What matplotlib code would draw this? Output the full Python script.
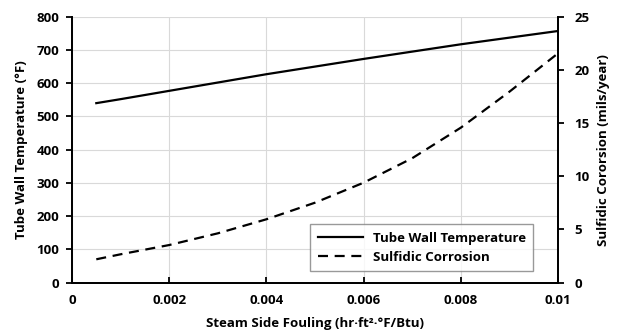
import matplotlib
matplotlib.use("Agg")
import matplotlib.pyplot as plt

plt.rcParams['font.family'] = ['Open Sans', 'DejaVu Sans']
plt.rcParams['font.weight'] = 'bold'

fouling = [0.0005, 0.001, 0.002, 0.003, 0.004, 0.005, 0.006, 0.007, 0.008, 0.009, 0.01]
tube_wall_temp = [540, 552, 577, 602, 627, 650, 673, 695, 717, 737, 757]
sulfidic_corrosion = [2.2, 2.67, 3.54, 4.64, 5.96, 7.52, 9.4, 11.7, 14.57, 17.95, 21.56]

x_ticks = [0, 0.002, 0.004, 0.006, 0.008, 0.01]
x_tick_labels = ["0", "0.002", "0.004", "0.006", "0.008", "0.01"]
left_ticks = [0, 100, 200, 300, 400, 500, 600, 700, 800]
right_ticks = [0, 5, 10, 15, 20, 25]

fig = plt.figure(figsize=(6.19, 3.32), dpi=100)
ax = fig.add_axes([0.1163, 0.1485, 0.7852, 0.8012])
ax2 = ax.twinx()

l1, = ax.plot(fouling, tube_wall_temp, color='black', lw=1.6, label='Tube Wall Temperature')
l2, = ax2.plot(fouling, sulfidic_corrosion, color='black', lw=1.6, ls=(0, (4.5, 3)), label='Sulfidic Corrosion')

ax.set_xlim(0, 0.01)
ax.set_ylim(0, 800)
ax2.set_ylim(0, 25)
ax.set_xticks(x_ticks)
ax.set_xticklabels(x_tick_labels)
ax.set_yticks(left_ticks)
ax2.set_yticks(right_ticks)

ax.grid(True, color='#d9d9d9', lw=0.8)
ax.set_axisbelow(True)

for a in (ax, ax2):
    for s in a.spines.values():
        s.set_linewidth(1.3)
    a.tick_params(labelsize=9.5, width=1.3, length=4)
    for lab in a.get_xticklabels() + a.get_yticklabels():
        lab.set_fontweight('bold')
ax.spines['top'].set_visible(False)
ax2.spines['top'].set_visible(False)
ax.tick_params(axis='x', direction='in', pad=8)
ax.tick_params(axis='y', direction='out', pad=5)
ax2.tick_params(axis='y', direction='out', pad=8)

ax.set_xlabel('Steam Side Fouling (hr·ft²·°F/Btu)', fontsize=9.5, fontweight='bold', labelpad=7)
ax.set_ylabel('Tube Wall Temperature (°F)', fontsize=9.5, fontweight='bold', labelpad=6)
ax2.set_ylabel('Sulfidic Cororsion (mils/year)', fontsize=9.5, fontweight='bold', labelpad=5)

leg = ax2.legend(handles=[l1, l2], loc='lower right', bbox_to_anchor=(0.963, 0.02),
                 fontsize=9.5, frameon=True, fancybox=False, handlelength=3.4,
                 borderpad=0.55, labelspacing=0.45)
leg.get_frame().set_edgecolor('#808080')
leg.get_frame().set_linewidth(1.0)
for t in leg.get_texts():
    t.set_fontweight('bold')

fig.savefig('out.png', dpi=100)
